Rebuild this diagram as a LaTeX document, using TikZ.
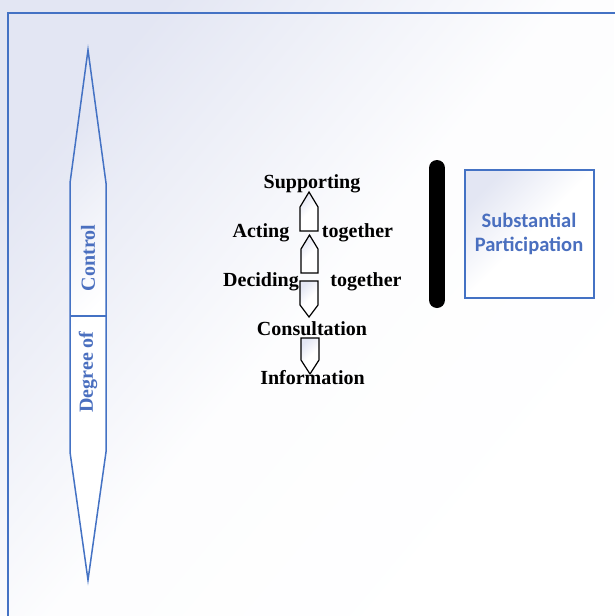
\documentclass[tikz,border=0pt]{standalone}
\usepackage{fontspec}
\setmainfont{Liberation Serif}
\newfontfamily\boxfont{Carlito}
\definecolor{frameblue}{HTML}{4472C4}
\definecolor{textblue}{HTML}{4A6FBF}
\definecolor{haze}{HTML}{E3E6F3}
\tikzset{
  softfill/.style={top color=haze, bottom color=white, middle color=white, shading angle=45},
  stage/.style={font=\fontsize{20}{24}\selectfont\bfseries, text=black, inner sep=0pt, anchor=base},
  axislabel/.style={font=\fontsize{20}{24}\selectfont\bfseries, text=textblue, rotate=90, inner sep=0pt},
  blockarrow/.style={draw=black, line width=1.2pt, softfill, line join=miter},
}
\begin{document}
\begin{tikzpicture}[x=1pt, y=-1pt]
\useasboundingbox (0,0) rectangle (614,616);
% page background with a soft diagonal haze, and the panel frame
\shade[top color=haze, bottom color=white, middle color=haze!8!white, shading angle=50] (0,0) rectangle (614,616);
\draw[frameblue, line width=1.5pt] (8,640) -- (8,13) -- (640,13);

% double-headed vertical arrow: degree of control
\draw[frameblue, line width=1.5pt, softfill] (88,50) -- (106,183) -- (106,452) -- (88,580) -- (70,452) -- (70,183) -- cycle;
\draw[frameblue, line width=1.2pt] (70,316) -- (106,316);
\node[axislabel] (ctrl) at (88,258) {Control};
\node[axislabel] (deg) at (88,372) {Degree of};

% small block arrows between the stages
\draw[blockarrow] (300,231) -- (300,207) -- (309,192) -- (318,207) -- (318,231) -- cycle;
\draw[blockarrow] (301,273) -- (301,249) -- (309.5,235) -- (318,249) -- (318,273) -- cycle;
\draw[blockarrow] (300,281) -- (318,281) -- (318,305) -- (309,317) -- (300,305) -- cycle;
\draw[blockarrow] (301,338) -- (319,338) -- (319,360) -- (310,374) -- (301,360) -- cycle;

% stages of participation
\node[stage] (supp) at (312,188) {Supporting};
\node[stage] (act) at (261,237) {Acting};
\node[stage] (acttog) at (357.5,237) {together};
\node[stage] (dec) at (261,286) {Deciding};
\node[stage] (dectog) at (366,286) {together};
\node[stage] (cons) at (312,335) {Consultation};
\node[stage] (info) at (312.5,384) {Information};

% bracket bar
\draw[black, line width=16pt, line cap=round] (437,168) -- (437,300);

% substantial participation box
\draw[frameblue, line width=1.3pt, softfill] (465,170) rectangle (594,298);
\node[font=\boxfont\fontsize{20.5}{24}\selectfont\bfseries, text=textblue, align=center, inner sep=0pt] (subst) at (529,234) {Substantial\\Participation};
\end{tikzpicture}
\end{document}
